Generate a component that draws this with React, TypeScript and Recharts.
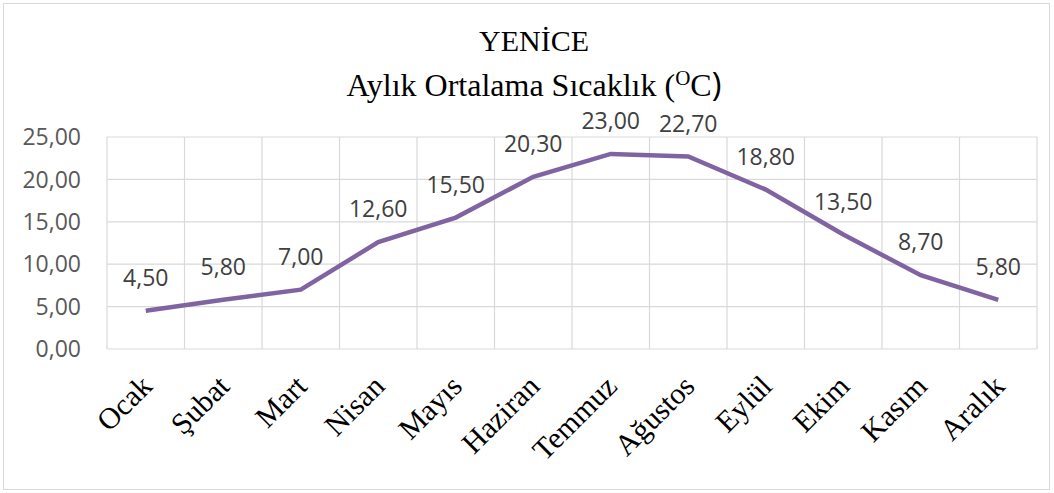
import { LineChart, Line, XAxis, YAxis, CartesianGrid, LabelList } from 'recharts';

const months = ['Ocak', 'Şubat', 'Mart', 'Nisan', 'Mayıs', 'Haziran', 'Temmuz', 'Ağustos', 'Eylül', 'Ekim', 'Kasım', 'Aralık'];
const temps = [4.5, 5.8, 7.0, 12.6, 15.5, 20.3, 23.0, 22.7, 18.8, 13.5, 8.7, 5.8];
const yTicks = [0, 5, 10, 15, 20, 25];

const data = months.map((m, i) => ({ month: m, temp: temps[i] }));

const fmt = (v: number) => v.toFixed(2).replace('.', ',');

const SANS = '"Open Sans", "Liberation Sans", sans-serif';
const SERIF = '"Liberation Serif", "Times New Roman", serif';

function MonthTick({ x, y, payload }: any) {
  return (
    <g transform={`translate(${x + 8},${y + 31})`}>
      <text textAnchor="end" transform="rotate(-45)" fontFamily={SERIF} fontSize={30} fill="#000">
        {payload.value}
      </text>
    </g>
  );
}

// grid lines sit on the category boundaries, not on the centres
const boundaryLines = ({ offset }: any) => {
  const n = months.length;
  return Array.from({ length: n + 1 }, (_, i) => offset.left + (i * offset.width) / n);
};

export default function App() {
  return (
    <div style={{ position: 'absolute', left: 0, top: 0, width: 1054, height: 493, background: '#fff' }}>
      <div
        style={{
          position: 'absolute',
          left: 3,
          top: 3,
          width: 1045,
          height: 485,
          border: '1px solid #d9d9d9',
        }}
      />
      <svg style={{ position: 'absolute', left: 0, top: 0 }} width={1054} height={130}>
        <text x={534} y={51} textAnchor="middle" fontFamily={SERIF} fontSize={30} fill="#000">
          YENİCE
        </text>
        <text x={534} y={96} textAnchor="middle" fontFamily={SERIF} fontSize={32} fill="#000">
          Aylık Ortalama Sıcaklık (
          <tspan fontSize={21} dy={-11}>O</tspan>
          <tspan dy={11}>C</tspan>
          <tspan fontFamily={SANS} fontSize={33}>)</tspan>
        </text>
      </svg>
      <div style={{ position: 'absolute', left: 0, top: 0 }}>
        <LineChart width={1054} height={493} data={data} margin={{ top: 137, right: 17, bottom: 0, left: 0 }}>
          <CartesianGrid stroke="#d9d9d9" strokeWidth={1.2} verticalCoordinatesGenerator={boundaryLines} />
          <XAxis
            dataKey="month"
            scale="band"
            axisLine={false}
            tickLine={false}
            height={144}
            interval={0}
            tick={<MonthTick />}
          />
          <YAxis
            domain={[0, 25]}
            ticks={yTicks}
            width={107}
            axisLine={false}
            tickLine={false}
            tickSize={0}
            tickMargin={26}
            tickFormatter={fmt}
            tick={{ fontFamily: SANS, fontSize: 23, fill: '#595959' }}
          />
          <Line
            type="linear"
            dataKey="temp"
            stroke="#8064a2"
            strokeWidth={4.5}
            dot={false}
            activeDot={false}
            isAnimationActive={false}
          >
            <LabelList
              dataKey="temp"
              position="top"
              offset={25}
              formatter={(v: any) => fmt(Number(v))}
              style={{ fontFamily: SANS, fontSize: 23, fill: '#404040' }}
            />
          </Line>
        </LineChart>
      </div>
    </div>
  );
}
